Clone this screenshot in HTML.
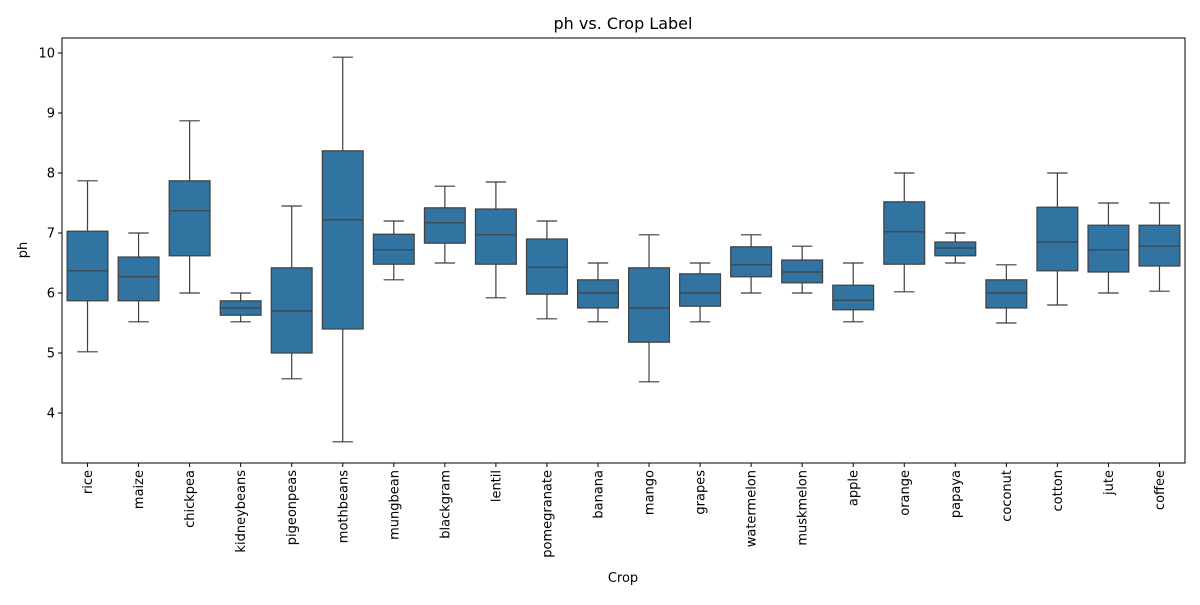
<!DOCTYPE html>
<html><head><meta charset="utf-8"><style>
body{margin:0;background:#fff;font-family:"Liberation Sans","DejaVu Sans",sans-serif;}
svg text{font-family:"DejaVu Sans","Liberation Sans",sans-serif;fill:#000;}
</style></head><body>
<svg id="chart" width="1200" height="600" xmlns="http://www.w3.org/2000/svg">
<rect width="1200" height="600" fill="#fff"/>
<text x="623" y="29" font-size="16" text-anchor="middle">ph vs. Crop Label</text>
<g id="plot"></g>
<text x="623" y="582" font-size="13" text-anchor="middle">Crop</text>
<text transform="translate(27,250) rotate(-90)" font-size="13" text-anchor="middle">ph</text>
</svg>
<script>
const categories=["rice","maize","chickpea","kidneybeans","pigeonpeas","mothbeans","mungbean","blackgram","lentil","pomegranate","banana","mango","grapes","watermelon","muskmelon","apple","orange","papaya","coconut","cotton","jute","coffee"];
const whiskerLow=[5.02,5.52,6.0,5.52,4.57,3.52,6.22,6.5,5.92,5.57,5.52,4.52,5.52,6.0,6.0,5.52,6.02,6.5,5.5,5.8,6.0,6.03];
const q1=[5.87,5.87,6.62,5.63,5.0,5.4,6.48,6.83,6.48,5.98,5.75,5.18,5.78,6.27,6.17,5.72,6.48,6.62,5.75,6.37,6.35,6.45];
const median=[6.37,6.27,7.37,5.75,5.7,7.22,6.72,7.17,6.97,6.43,6.0,5.75,6.0,6.47,6.35,5.88,7.02,6.75,6.0,6.85,6.72,6.78];
const q3=[7.03,6.6,7.87,5.87,6.42,8.37,6.98,7.42,7.4,6.9,6.22,6.42,6.32,6.77,6.55,6.13,7.52,6.85,6.22,7.43,7.13,7.13];
const whiskerHigh=[7.87,7.0,8.87,6.0,7.45,9.93,7.2,7.78,7.85,7.2,6.5,6.97,6.5,6.97,6.78,6.5,8.0,7.0,6.47,8.0,7.5,7.5];
const yTicks=[4,5,6,7,8,9,10];

const L=62,R=1185,T=38,B=463,yMin=3.167,yMax=10.25;
const NS="http://www.w3.org/2000/svg";
const g=document.getElementById('plot');
const step=(R-L)/categories.length;
const xC=i=>L+step*(i+0.5);
const y=v=>B-(v-yMin)/(yMax-yMin)*(B-T);
function mk(t,a){const e=document.createElementNS(NS,t);for(const k in a)e.setAttribute(k,a[k]);g.appendChild(e);return e;}
const bw=step*0.8, cw=bw/2, lc="#3f3f3f";
yTicks.forEach(v=>{
  const t=mk('line',{x1:L-4,x2:L,y1:y(v),y2:y(v),stroke:'#000'});
  
  
  const tx=mk('text',{x:L-7,y:y(v)+4.5,'font-size':13,'text-anchor':'end'});
  tx.textContent=v;
  
  
});
categories.forEach((c,i)=>{
  const x=xC(i);
  const w1=mk('line',{x1:x,x2:x,y1:y(whiskerHigh[i]),y2:y(q3[i]),stroke:lc,'stroke-width':1.2});
  
  
  const w2=mk('line',{x1:x,x2:x,y1:y(q1[i]),y2:y(whiskerLow[i]),stroke:lc,'stroke-width':1.2});
  
  
  const c1=mk('line',{x1:x-cw/2,x2:x+cw/2,y1:y(whiskerHigh[i]),y2:y(whiskerHigh[i]),stroke:lc,'stroke-width':1.2});
  
  
  const c2=mk('line',{x1:x-cw/2,x2:x+cw/2,y1:y(whiskerLow[i]),y2:y(whiskerLow[i]),stroke:lc,'stroke-width':1.2});
  
  
  const b=mk('rect',{x:x-bw/2,y:y(q3[i]),width:bw,height:y(q1[i])-y(q3[i]),fill:'#3274a1',stroke:lc,'stroke-width':1.2});
  
  
  const m=mk('line',{x1:x-bw/2,x2:x+bw/2,y1:y(median[i]),y2:y(median[i]),stroke:lc,'stroke-width':1.2});
  
  
  const t=mk('line',{x1:x,x2:x,y1:B,y2:B+4,stroke:'#000'});
  
  
  const tx=mk('text',{transform:`translate(${x+4.5},${B+7}) rotate(-90)`,'font-size':13,'text-anchor':'end'});
  tx.textContent=c;
  
  
});
const fr=mk('rect',{x:L,y:T,width:R-L,height:B-T,fill:'none',stroke:'#000','stroke-width':1});


</script>
</body></html>
